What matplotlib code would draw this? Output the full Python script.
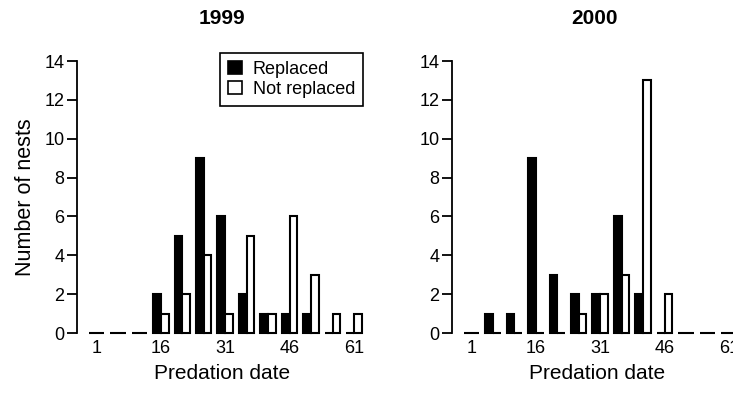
import matplotlib.pyplot as plt
from matplotlib.patches import Patch
import numpy as np

plt.rcParams['font.family'] = ['Liberation Sans', 'DejaVu Sans']

# predation date bins (start day of each 5-day class)
dates = [1, 6, 11, 16, 21, 26, 31, 36, 41, 46, 51, 56, 61]
replaced_1999 = [0, 0, 0, 2, 5, 9, 6, 2, 1, 1, 1, 0, 0]
not_replaced_1999 = [0, 0, 0, 1, 2, 4, 1, 5, 1, 6, 3, 1, 1]
replaced_2000 = [0, 1, 1, 9, 3, 2, 2, 6, 2, 0, 0, 0, 0]
not_replaced_2000 = [0, 0, 0, 0, 0, 1, 2, 3, 13, 2, 0, 0, 0]
xticks = [1, 16, 31, 46, 61]
yticks = [0, 2, 4, 6, 8, 10, 12, 14]

W, H = 733, 395
fig = plt.figure(figsize=(W / 100, H / 100), dpi=100)

ax1 = fig.add_axes([77 / W, 1 - 333 / H, 290 / W, 272 / H])
ax2 = fig.add_axes([452 / W, 1 - 333 / H, 290 / W, 272 / H])

bw = 1.8
x = np.array(dates)


def draw(ax, rep, notrep, title):
    ax.bar(x - bw / 2, rep, width=bw, color='black', edgecolor='black',
           linewidth=1.5, clip_on=False)
    ax.bar(x + bw / 2, notrep, width=bw, color='white', edgecolor='black',
           linewidth=1.5, clip_on=False)
    ax.set_xlim(-3.5, 64)
    ax.set_ylim(0, 14)
    for s in ['top', 'right', 'bottom']:
        ax.spines[s].set_visible(False)
    ax.spines['left'].set_linewidth(1.3)
    ax.set_yticks(yticks)
    ax.set_xticks(xticks)
    ax.tick_params(axis='y', direction='out', length=7, width=1.3,
                   labelsize=13, pad=2)
    ax.tick_params(axis='x', length=0, labelsize=13, pad=5)
    ax.set_xlabel('Predation date', fontsize=15, labelpad=5)
    ax.set_title(title, fontsize=15, fontweight='bold', pad=27)


draw(ax1, replaced_1999, not_replaced_1999, '1999')
draw(ax2, replaced_2000, not_replaced_2000, '2000')
ax2.title.set_x(142 / 290)
ax1.set_ylabel('Number of nests', fontsize=15.5, labelpad=6)

handles = [Patch(facecolor='black', edgecolor='black', linewidth=1.2),
           Patch(facecolor='white', edgecolor='black', linewidth=1.2)]
leg = ax1.legend(handles, ['Replaced', 'Not replaced'], loc='upper right',
                 bbox_to_anchor=(363 / W, 1 - 53 / H),
                 bbox_transform=fig.transFigure, borderaxespad=0,
                 fontsize=13, handlelength=0.75, handleheight=0.75,
                 handletextpad=0.6, labelspacing=0.15, fancybox=False,
                 framealpha=1, borderpad=0.45)
leg.get_frame().set_edgecolor('black')
leg.get_frame().set_linewidth(1.2)

fig.savefig('out.png', dpi=100)
